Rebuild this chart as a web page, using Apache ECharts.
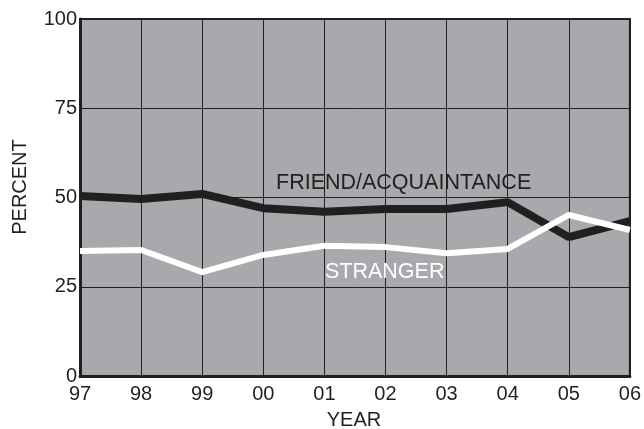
<!DOCTYPE html>
<html><head><meta charset="utf-8">
<script src="https://cdn.jsdelivr.net/npm/echarts@6/dist/echarts.min.js"></script>
<style>html,body{margin:0;padding:0;background:#fff}#c{width:644px;height:429px}</style>
</head><body><div id="c"></div>
<script>
const years = ['97','98','99','00','01','02','03','04','05','06'];
const friendAcquaintance = [50.4, 49.6, 51.0, 47.0, 46.0, 46.8, 46.8, 48.7, 38.9, 43.4];
const stranger = [35.0, 35.3, 29.1, 33.9, 36.5, 36.1, 34.4, 35.6, 45.1, 40.9];
const yTicks = [0, 25, 50, 75, 100];

const font = 'Liberation Sans, Arial, sans-serif';
const ink = '#231f20';
const chart = echarts.init(document.getElementById('c'));
chart.setOption({
  animation: false,
  backgroundColor: '#ffffff',
  grid: {left: 80, top: 19, right: 14, bottom: 53, show: true,
         backgroundColor: '#a7a9ac', borderColor: ink, borderWidth: 2},
  xAxis: {
    type: 'category', data: years, boundaryGap: false,
    axisLine: {lineStyle: {color: ink, width: 3}},
    axisTick: {show: false},
    axisLabel: {fontFamily: font, fontSize: 20, color: ink, margin: 8},
    splitLine: {show: true, lineStyle: {color: ink, width: 1}}
  },
  yAxis: {
    type: 'value', min: yTicks[0], max: yTicks[yTicks.length-1], interval: 25,
    axisLine: {show: true, lineStyle: {color: ink, width: 3}},
    axisTick: {show: false},
    axisLabel: {fontFamily: font, fontSize: 20, color: ink, margin: 3},
    splitLine: {show: true, lineStyle: {color: ink, width: 1}}
  },
  series: [
    {name: 'FRIEND/ACQUAINTANCE', type: 'line', data: friendAcquaintance,
     symbol: 'none', lineStyle: {color: ink, width: 8}, z: 3},
    {name: 'STRANGER', type: 'line', data: stranger,
     symbol: 'none', lineStyle: {color: '#ffffff', width: 6}, z: 4}
  ],
  graphic: [
    {type: 'text', x: 276, y: 183, z: 10,
     style: {text: 'FRIEND/ACQUAINTANCE', fontFamily: font, fontSize: 21.5, fill: ink,
             align: 'left', verticalAlign: 'middle'}},
    {type: 'text', x: 325, y: 272, z: 10,
     style: {text: 'STRANGER', fontFamily: font, fontSize: 21.5, fill: '#ffffff',
             align: 'left', verticalAlign: 'middle'}},
    {type: 'text', x: 20, y: 187, rotation: Math.PI / 2, z: 10,
     style: {text: 'PERCENT', fontFamily: font, fontSize: 20, fill: ink,
             align: 'center', verticalAlign: 'middle'}},
    {type: 'text', x: 354, y: 420, z: 10,
     style: {text: 'YEAR', fontFamily: font, fontSize: 20, fill: ink,
             align: 'center', verticalAlign: 'middle'}}
  ]
});
</script></body></html>
